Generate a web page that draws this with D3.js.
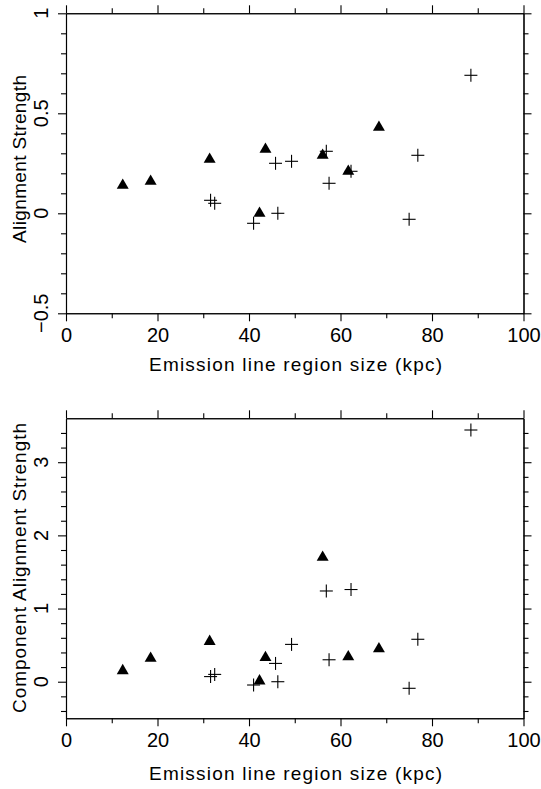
<!DOCTYPE html>
<html>
<head>
<meta charset="utf-8">
<script src="https://cdn.jsdelivr.net/npm/d3@7"></script>
<style>
  body { margin: 0; background: #fff; }
  text { font-family: "Liberation Sans", sans-serif; fill: #000; }
</style>
</head>
<body>
<div id="chart"></div>
<script>
// region sizes (kpc) for the two samples
var triX   = [12.4, 18.5, 31.4, 42.3, 43.6, 56.1, 61.7, 68.4];
var crossX = [31.6, 32.5, 41.0, 45.8, 46.3, 49.3, 56.9, 57.5, 62.3, 75.0, 76.9, 88.5];

// top panel: alignment strength
var triAlign   = [0.14, 0.16, 0.27, 0.00, 0.32, 0.29, 0.21, 0.43];
var crossAlign = [0.065, 0.05, -0.05, 0.25, 0.00, 0.26, 0.31, 0.15, 0.21, -0.03, 0.29, 0.69];

// bottom panel: component alignment strength
var triComp   = [0.15, 0.32, 0.55, 0.01, 0.33, 1.70, 0.34, 0.45];
var crossComp = [0.07, 0.10, -0.045, 0.25, 0.00, 0.51, 1.24, 0.30, 1.26, -0.09, 0.58, 3.44];

var xMajor = [0, 20, 40, 60, 80, 100];
var xMinor = [10, 30, 50, 70, 90];
var xTitle = "Emission line region size (kpc)";

var W = 541, H = 789;
var left = 66, right = 523.5;
var fs = 20;

var svg = d3.select("#chart").append("svg")
  .attr("width", W).attr("height", H);

var x = d3.scaleLinear().domain([0, 100]).range([left, right]);

function panel(o) {
  var y = d3.scaleLinear().domain(o.domain).range([o.bottom, o.top]);
  var g = svg.append("g");
  var majT = 8, minT = 5;

  function ax(gen, tr, vals, size, labels) {
    var a = gen.tickValues(vals).tickSize(size).tickSizeOuter(0).tickPadding(15 - size);
    if (!labels) a.tickFormat("");
    var s = g.append("g").attr("transform", tr).call(a);
    s.selectAll("path,line").attr("stroke", "#000").attr("stroke-width", 1.1);
    s.selectAll("text").attr("font-size", fs).attr("font-family", "Liberation Sans");
    return s;
  }
  // x axes
  ax(d3.axisBottom(x), "translate(0," + o.bottom + ")", xMajor, majT, true);
  ax(d3.axisBottom(x), "translate(0," + o.bottom + ")", xMinor, minT, false);
  ax(d3.axisTop(x), "translate(0," + o.top + ")", xMajor, majT, false);
  ax(d3.axisTop(x), "translate(0," + o.top + ")", xMinor, minT, false);
  // y axes
  ax(d3.axisLeft(y), "translate(" + left + ",0)", o.yMajor, majT, false);
  ax(d3.axisLeft(y), "translate(" + left + ",0)", o.yMinor, minT, false);
  ax(d3.axisRight(y), "translate(" + right + ",0)", o.yMajor, majT, false);
  ax(d3.axisRight(y), "translate(" + right + ",0)", o.yMinor, minT, false);

  // rotated y tick labels
  g.selectAll("ylab").data(o.yMajor).join("text")
    .attr("x", 48).attr("y", function(d) { return y(d); })
    .attr("transform", function(d) { return "rotate(-90,48," + y(d) + ")"; })
    .attr("text-anchor", "middle").attr("font-size", fs)
    .text(function(d, i) { return o.yLabels[i]; });

  var ty = o.titleMid;
  g.append("text")
    .attr("x", 26).attr("y", ty)
    .attr("transform", "rotate(-90,26," + ty + ")")
    .attr("text-anchor", "middle").attr("font-size", 19)
    .attr("textLength", o.titleLen).attr("lengthAdjust", "spacing")
    .text(o.yTitle);

  g.append("text")
    .attr("x", 295.5).attr("y", o.bottom + o.xTitleOff)
    .attr("text-anchor", "middle").attr("font-size", 19)
    .attr("textLength", 293).attr("lengthAdjust", "spacing")
    .text(xTitle);

  // triangles
  g.selectAll("tri").data(triX).join("path")
    .attr("d", d3.symbol().type(d3.symbolTriangle).size(62))
    .attr("transform", function(d, i) { return "translate(" + x(d) + "," + y(o.tri[i]) + ")"; })
    .attr("fill", "#000");

  // crosses
  var c = 6.5;
  var cg = g.selectAll("cross").data(crossX).join("g")
    .attr("transform", function(d, i) { return "translate(" + x(d) + "," + y(o.cross[i]) + ")"; });
  cg.append("line").attr("x1", -c).attr("x2", c).attr("stroke", "#000").attr("stroke-width", 1.1);
  cg.append("line").attr("y1", -c).attr("y2", c).attr("stroke", "#000").attr("stroke-width", 1.1);
}

panel({
  top: 13.3, bottom: 313.3, domain: [-0.5, 1],
  yMajor: [-0.5, 0, 0.5, 1],
  yLabels: ["\u22120.5", "0", "0.5", "1"],
  yMinor: [-0.4, -0.3, -0.2, -0.1, 0.1, 0.2, 0.3, 0.4, 0.6, 0.7, 0.8, 0.9],
  yTitle: "Alignment Strength", titleMid: 159, titleLen: 168, xTitleOff: 58,
  tri: triAlign, cross: crossAlign
});

panel({
  top: 418.3, bottom: 718.3, domain: [-0.5, 3.6],
  yMajor: [0, 1, 2, 3],
  yLabels: ["0", "1", "2", "3"],
  yMinor: [-0.4, -0.2, 0.2, 0.4, 0.6, 0.8, 1.2, 1.4, 1.6, 1.8, 2.2, 2.4, 2.6, 2.8, 3.2, 3.4],
  yTitle: "Component Alignment Strength", titleMid: 568, titleLen: 290, xTitleOff: 62,
  tri: triComp, cross: crossComp
});
</script>
</body>
</html>
